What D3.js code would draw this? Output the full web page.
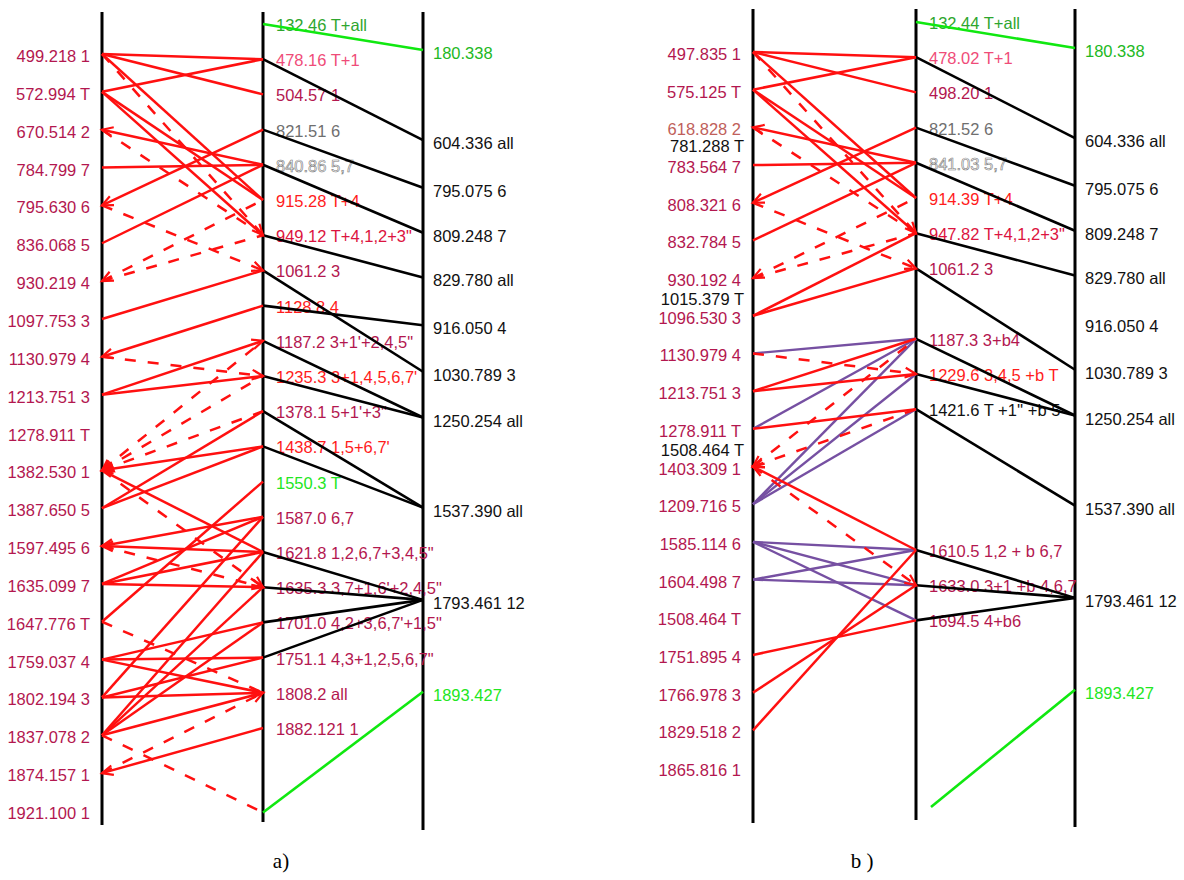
<!DOCTYPE html>
<html>
<head>
<meta charset="utf-8">
<script src="https://cdn.jsdelivr.net/npm/d3@7"></script>
<style>
  body { margin: 0; background: #fff; }
  text.lbl { font-family: "Liberation Sans", Arial, sans-serif; }
  text.cap { font-family: "Liberation Serif", "Times New Roman", serif; }
</style>
</head>
<body>
<svg id="chart" width="1184" height="880"></svg>
<script>
// ---------- panel a) ----------
const leftLabelsA = ["499.218 1", "572.994 T", "670.514 2", "784.799 7", "795.630 6", "836.068 5",
  "930.219 4", "1097.753 3", "1130.979 4", "1213.751 3", "1278.911 T", "1382.530 1", "1387.650 5",
  "1597.495 6", "1635.099 7", "1647.776 T", "1759.037 4", "1802.194 3", "1837.078 2", "1874.157 1",
  "1921.100 1"];
const midLabelsA = ["132.46 T+all", "478.16 T+1", "504.57 1", "821.51 6", "840.86 5,7", "915.28 T+4",
  "949.12 T+4,1,2+3\"", "1061.2 3", "1128.8 4", "1187.2 3+1'+2,4,5\"", "1235.3 3+1,4,5,6,7'",
  "1378.1 5+1'+3\"", "1438.7 1,5+6,7'", "1550.3 T", "1587.0 6,7", "1621.8 1,2,6,7+3,4,5\"",
  "1635.3 3,7+1,6'+2,4,5\"", "1701.0 4,2+3,6,7'+1,5\"", "1751.1 4,3+1,2,5,6,7\"", "1808.2 all",
  "1882.121 1", ""];
const midToneA = ["green", "pink", "crimson", "gray", "hollow", "red", "rose", "crimson", "red",
  "crimson", "red", "crimson", "red", "lime", "crimson", "crimson", "crimson", "crimson", "crimson",
  "crimson", "crimson", "crimson"];
const midSlotA = [0, 1, 2, 3, 4, 5, 6, 7, 8, 9, 10, 11, 12, 13, 14, 15, 16, 17, 18, 19, 20, 22.4];
const rightLabelsA = ["180.338", "604.336 all", "795.075 6", "809.248 7", "829.780 all", "916.050 4",
  "1030.789 3", "1250.254 all", "1537.390 all", "1793.461 12", "1893.427"];
const rightSlotA = [0.74, 3.3, 4.65, 5.93, 7.2, 8.56, 9.88, 11.18, 13.74, 16.36, 18.97];
const rightToneA = ["green2", "black", "black", "black", "black", "black", "black", "black", "black", "black", "lime"];
// [left row, middle node, colour, dashed, arrow end]
const linksA = [
  [0, 1, "red", 0, ""], [0, 2, "red", 0, ""], [1, 1, "red", 0, ""], [0, 5, "red", 0, ""],
  [1, 5, "red", 0, ""], [1, 6, "red", 0, ""], [0, 6, "red", 1, "M"], [2, 4, "red", 0, "L"],
  [3, 4, "red", 0, ""], [4, 3, "red", 0, "L"], [5, 4, "red", 0, ""], [2, 6, "red", 1, ""],
  [4, 7, "red", 1, "M"], [6, 5, "red", 1, "L"], [6, 6, "red", 1, ""], [7, 7, "red", 0, ""],
  [8, 8, "red", 0, "L"], [8, 10, "red", 1, "M"], [9, 9, "red", 0, "M"], [9, 10, "red", 0, ""],
  [11, 9, "red", 1, "L"], [11, 10, "red", 1, "L"], [11, 11, "red", 1, "F"], [11, 12, "red", 0, "L"],
  [12, 11, "red", 0, ""], [12, 12, "red", 0, ""], [11, 15, "red", 0, ""], [11, 16, "red", 1, "M"],
  [15, 13, "red", 0, ""], [13, 14, "red", 0, "L"], [13, 15, "red", 0, "L"], [13, 16, "red", 1, "M"],
  [14, 15, "red", 0, ""], [14, 14, "red", 0, ""], [14, 16, "red", 0, ""], [15, 19, "red", 1, ""],
  [16, 17, "red", 0, ""], [16, 18, "red", 0, ""], [16, 19, "red", 0, ""], [17, 19, "red", 0, "M"],
  [17, 18, "red", 0, ""], [17, 14, "red", 0, ""], [18, 19, "red", 0, ""], [18, 17, "red", 0, ""],
  [18, 16, "red", 0, ""], [18, 15, "red", 0, ""], [18, 21, "red", 1, ""], [19, 20, "red", 0, "L"],
  [19, 19, "red", 1, "M"]
];
// [middle node, right node, colour]
const outLinksA = [
  [0, 0, "lime"], [1, 1, "black"], [3, 2, "black"], [4, 3, "black"], [6, 4, "black"], [7, 6, "black"],
  [8, 5, "black"], [9, 7, "black"], [10, 7, "black"], [11, 8, "black"], [12, 8, "black"],
  [15, 9, "black"], [16, 9, "black"], [17, 9, "black"], [18, 9, "black"], [21, 10, "lime"]
];

// ---------- panel b) ----------
const leftLabelsB = ["497.835 1", "575.125 T", "618.828 2", "783.564 7", "808.321 6", "832.784 5",
  "930.192 4", "1096.530 3", "1130.979 4", "1213.751 3", "1278.911 T", "1403.309 1", "1209.716 5",
  "1585.114 6", "1604.498 7", "1508.464 T", "1751.895 4", "1766.978 3", "1829.518 2", "1865.816 1"];
const leftToneB = ["crimson", "crimson", "brown", "crimson", "crimson", "crimson", "crimson", "crimson",
  "crimson", "crimson", "crimson", "crimson", "crimson", "crimson", "crimson", "crimson", "crimson",
  "crimson", "crimson", "crimson"];
const extraLabelsB = ["781.288 T", "1015.379 T", "1508.464 T"];
const extraRowB = [2.45, 6.5, 10.5];
const midLabelsB = ["132.44 T+all", "478.02 T+1", "498.20 1", "821.52 6", "841.03 5,7", "914.39 T+4",
  "947.82 T+4,1,2+3\"", "1061.2 3", "1187.3 3+b4", "1229.6 3,4,5 +b T", "1421.6 T +1'' +b 5",
  "1610.5 1,2 + b 6,7", "1633.0 3+1 +b 4,6,7", "1694.5 4+b6", ""];
const midToneB = ["green", "pink", "crimson", "gray", "hollow", "red", "rose", "crimson", "crimson",
  "red", "black", "crimson", "crimson", "crimson", "crimson"];
const midSlotB = [0, 1, 2, 3, 4, 5, 6, 7, 9, 10, 11, 15, 16, 17, 22.3];
const rightLabelsB = rightLabelsA;
const rightSlotB = rightSlotA;
const rightToneB = rightToneA;
const linksB = [
  [0, 1, "red", 0, ""], [0, 2, "red", 0, ""], [1, 1, "red", 0, ""], [0, 5, "red", 0, ""],
  [1, 5, "red", 0, ""], [1, 6, "red", 0, ""], [0, 6, "red", 1, "M"], [2, 4, "red", 0, "L"],
  [3, 4, "red", 0, ""], [4, 3, "red", 0, "L"], [5, 4, "red", 0, ""], [2, 6, "red", 1, ""],
  [4, 7, "red", 1, "M"], [6, 5, "red", 1, "L"], [6, 6, "red", 1, ""], [7, 6, "red", 0, ""],
  [7, 7, "red", 0, ""],
  [8, 8, "purple", 0, ""], [10, 8, "purple", 0, ""], [12, 8, "purple", 0, ""], [12, 9, "purple", 0, ""],
  [12, 10, "purple", 0, ""], [13, 11, "purple", 0, ""], [13, 12, "purple", 0, ""],
  [13, 13, "purple", 0, ""], [14, 11, "purple", 0, ""], [14, 12, "purple", 0, ""],
  [8, 9, "red", 1, "M"], [9, 8, "red", 0, ""], [9, 9, "red", 0, ""], [10, 10, "red", 0, ""],
  [11, 8, "red", 1, "L"], [11, 10, "red", 1, "L"], [11, 11, "red", 0, "L"], [11, 12, "red", 1, "M"],
  [16, 13, "red", 0, ""], [17, 12, "red", 0, ""], [18, 11, "red", 0, ""]
];
const outLinksB = [
  [0, 0, "lime"], [1, 1, "black"], [3, 2, "black"], [4, 3, "black"], [6, 4, "black"], [7, 6, "black"],
  [8, 7, "black"], [9, 7, "black"], [10, 8, "black"], [11, 9, "black"], [12, 9, "black"],
  [13, 9, "black"], [14, 10, "lime"]
];

// ---------- styling ----------
const tone = {
  crimson: "#b3174f", pink: "#ef4c78", red: "#ff1c1c", rose: "#dc1440", gray: "#6f6f6f",
  green: "#2ea62e", green2: "#22b822", lime: "#22e622", black: "#111111", brown: "#c0605a",
  purple: "#7650a2"
};
const lineColour = { red: "#ff1010", purple: "#7650a2", black: "#000000", lime: "#10e810" };
const FONT = 16.5;

const svg = d3.select("#chart");

// open "V" head, or a filled one ("F" variant), with its tip on the given point
function arrowHead(g, tip, from, colour, filled) {
  const ang = Math.atan2(tip[1] - from[1], tip[0] - from[0]);
  const len = 12, spread = 0.42;
  const p1 = [tip[0] - len * Math.cos(ang - spread), tip[1] - len * Math.sin(ang - spread)];
  const p2 = [tip[0] - len * Math.cos(ang + spread), tip[1] - len * Math.sin(ang + spread)];
  const path = g.append("path").attr("stroke", colour).attr("stroke-width", 2.2);
  if (filled) path.attr("d", d3.line()([p1, tip, p2, p1])).attr("fill", colour);
  else path.attr("d", d3.line()([p1, tip, p2])).attr("fill", "none");
}

function styleText(sel, t) {
  if (t === "hollow") {
    sel.attr("fill", "#ffffff").attr("stroke", "#7a7a7a").attr("stroke-width", 0.6);
  } else {
    sel.attr("fill", tone[t]);
  }
}

function drawPanel(p) {
  const g = svg.append("g");
  const [xL, xM, xR] = p.axisX;
  const yLeft = d3.scaleLinear().domain(p.leftDomain).range(p.leftRange);
  const yMid = d3.scaleLinear().domain([0, 20]).range(p.midRange);

  // three vertical axes
  [[xL, p.bottoms[0]], [xM, p.bottoms[1]], [xR, p.bottoms[2]]].forEach(([x, b]) => {
    g.append("line").attr("x1", x).attr("x2", x).attr("y1", p.top).attr("y2", b)
      .attr("stroke", "#000").attr("stroke-width", 3);
  });

  // left column labels
  g.selectAll(null).data(p.left).join("text").attr("class", "lbl")
    .attr("x", xL - 12).attr("y", (d, i) => yLeft(i) + 2)
    .attr("text-anchor", "end").attr("dominant-baseline", "central")
    .attr("font-size", FONT).text(d => d)
    .each(function (d, i) { styleText(d3.select(this), p.leftTone ? p.leftTone[i] : "crimson"); });

  if (p.extra) {
    g.selectAll(null).data(p.extra).join("text").attr("class", "lbl")
      .attr("x", xL - 9).attr("y", (d, i) => yLeft(p.extraRow[i]) + 2)
      .attr("text-anchor", "end").attr("dominant-baseline", "central")
      .attr("font-size", FONT).attr("fill", tone.black).text(d => d);
  }

  // middle column labels
  g.selectAll(null).data(p.mid).join("text").attr("class", "lbl")
    .attr("x", xM + 13).attr("y", (d, i) => yMid(p.midSlot[i]) + 1)
    .attr("dominant-baseline", "central").attr("font-size", FONT).text(d => d)
    .each(function (d, i) { styleText(d3.select(this), p.midTone[i]); });

  // right column labels
  g.selectAll(null).data(p.right).join("text").attr("class", "lbl")
    .attr("x", xR + 10).attr("y", (d, i) => yMid(p.rightSlot[i]) + 3)
    .attr("dominant-baseline", "central").attr("font-size", FONT).text(d => d)
    .each(function (d, i) { styleText(d3.select(this), p.rightTone[i]); });

  // middle -> right connections
  p.outLinks.forEach(([m, r, c]) => {
    let a = [xM, yMid(p.midSlot[m])];
    const b = [xR, yMid(p.rightSlot[r])];
    if (p.looseMid && p.looseMid.includes(m)) a = [xM + 15, a[1]];
    g.append("path").attr("d", d3.line()([a, b]))
      .attr("stroke", lineColour[c]).attr("stroke-width", 2.6).attr("fill", "none");
  });

  // left <-> middle transitions
  p.links.forEach(([l, m, c, dashed, arrow]) => {
    const a = [xL, yLeft(l)];
    const b = [xM, yMid(p.midSlot[m])];
    const col = lineColour[c];
    g.append("path").attr("d", d3.line()([a, b]))
      .attr("stroke", col).attr("stroke-width", c === "purple" ? 2.4 : 2.5).attr("fill", "none")
      .attr("stroke-dasharray", dashed ? "11,12" : null);
    if (arrow === "L" || arrow === "F") arrowHead(g, a, b, col, arrow === "F");
    if (arrow === "M") arrowHead(g, b, a, col, false);
  });

  g.append("text").attr("class", "cap").attr("x", p.captionX).attr("y", 868)
    .attr("text-anchor", "middle").attr("font-size", 21).attr("fill", "#000").text(p.caption);
}

drawPanel({
  axisX: [102, 263, 423], top: 12, bottoms: [825, 822, 830],
  leftDomain: [0, 20], leftRange: [54, 811], midRange: [24, 728],
  left: leftLabelsA, mid: midLabelsA, midTone: midToneA, midSlot: midSlotA,
  right: rightLabelsA, rightSlot: rightSlotA, rightTone: rightToneA,
  links: linksA, outLinks: outLinksA, caption: "a)", captionX: 281
});

drawPanel({
  axisX: [753, 916, 1075], top: 9, bottoms: [823, 820, 827],
  leftDomain: [0, 19], leftRange: [52, 768], midRange: [22, 726],
  left: leftLabelsB, leftTone: leftToneB, extra: extraLabelsB, extraRow: extraRowB,
  mid: midLabelsB, midTone: midToneB, midSlot: midSlotB,
  right: rightLabelsB, rightSlot: rightSlotB, rightTone: rightToneB,
  links: linksB, outLinks: outLinksB, looseMid: [14], caption: "b )", captionX: 862
});
</script>
</body>
</html>
